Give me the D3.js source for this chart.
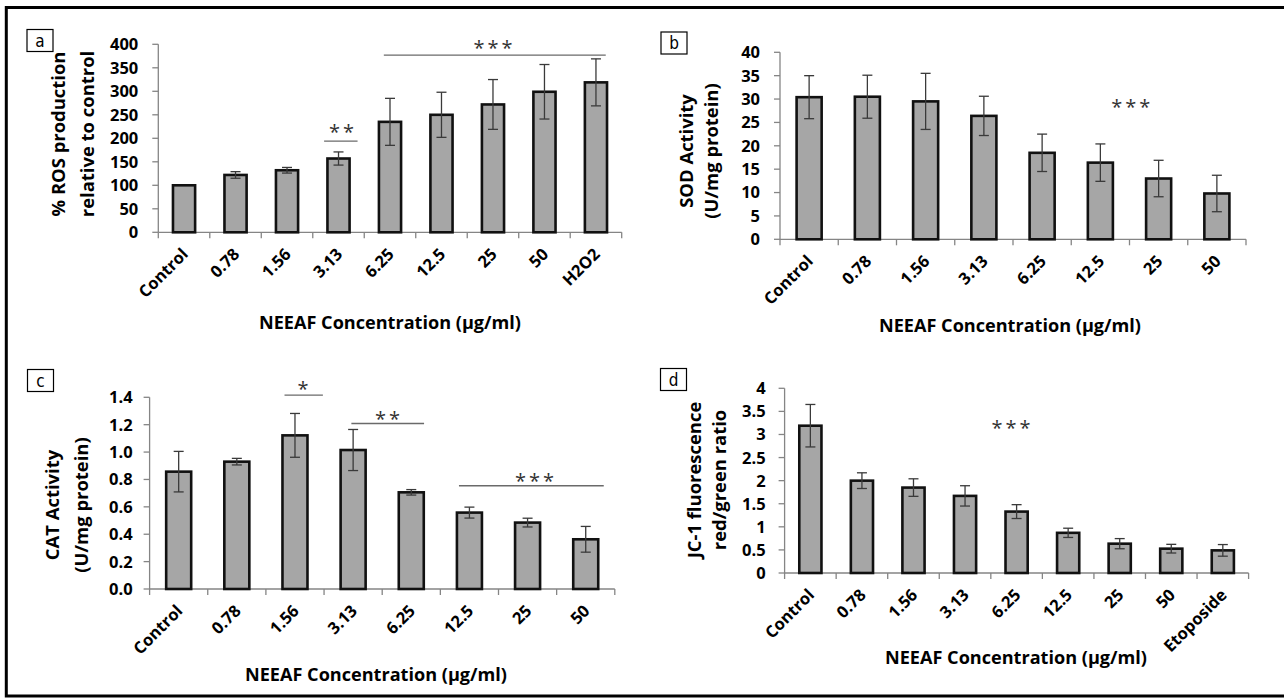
<!DOCTYPE html>
<html lang="en">
<head>
  <meta charset="UTF-8">
  <title>NEEAF oxidative stress panels</title>
  <script src="https://cdn.jsdelivr.net/npm/d3@7"></script>
<style>
    body { margin: 0; background: #fff; }
    text { font-family: "Open Sans", sans-serif; font-weight: bold; fill: #000; }
    .panel-tag { font-family: "Liberation Sans Narrow", "DejaVu Sans Condensed", sans-serif; font-weight: normal; font-size: 17px; }
    .stars { font-weight: normal; fill: #333; font-size: 20px; letter-spacing: 3px; }
    .axis-line { stroke: #858585; stroke-width: 1.3px; }
    .bar { fill: #a6a6a6; stroke: #111; stroke-width: 2.6px; }
    .err { stroke: #3a3a3a; stroke-width: 1.3px; }
    .sig-line { stroke: #6a6a6a; stroke-width: 1.4px; }
</style>
</head>
<body>
<svg width="1284" height="698"></svg>
<script>

// ---- data ----
var concLabels = ["Control", "0.78", "1.56", "3.13", "6.25", "12.5", "25", "50"];
var rosLabels = concLabels.concat(["H2O2"]);
var jcLabels = concLabels.concat(["Etoposide"]);

var rosMean = [100, 122, 132, 157, 235, 250, 272, 299, 319];
var rosErr  = [0, 7, 6, 14, 50, 48, 53, 58, 50];

var sodMean = [30.4, 30.5, 29.5, 26.4, 18.5, 16.4, 13.0, 9.8];
var sodErr  = [4.6, 4.6, 6.0, 4.2, 4.0, 4.0, 3.9, 3.9];

var catMean = [0.857, 0.930, 1.122, 1.015, 0.706, 0.558, 0.485, 0.363];
var catErr  = [0.148, 0.024, 0.160, 0.150, 0.020, 0.040, 0.032, 0.094];

var jcMean = [3.19, 2.00, 1.85, 1.67, 1.33, 0.87, 0.635, 0.527, 0.49];
var jcErr  = [0.46, 0.17, 0.19, 0.22, 0.15, 0.10, 0.11, 0.094, 0.126];

// significance marks: positions in category units, height in data units
var rosSig = [{ stars: "**", from: 2.72, to: 3.37, at: 194, tx: 3.06, ty: 222 },
              { stars: "***", from: 3.88, to: 8.19, at: 377, tx: 6.0, ty: 400 }];
var sodSig = [{ stars: "***", tx: 5.52, ty: 29.1 }];
var catSig = [{ stars: "*", from: 1.82, to: 2.48, at: 1.416, tx: 2.14, ty: 1.489 },
              { stars: "**", from: 2.97, to: 4.22, at: 1.209, tx: 3.59, ty: 1.272 },
              { stars: "***", from: 4.82, to: 7.31, at: 0.754, tx: 6.12, ty: 0.82 }];
var jcSig = [{ stars: "***", tx: 3.89, ty: 3.225 }];

var xTitle = "NEEAF Concentration (\u00b5g/ml)";

var svg = d3.select("svg");

// outer frame (cut at the right edge like the source image)
svg.append("rect")
    .attr("x", 6.3).attr("y", 7.5)
    .attr("width", 1300).attr("height", 688.5)
    .attr("fill", "none").attr("stroke", "#000").attr("stroke-width", 3);

function fitSize(str, base, target) {
  var t = svg.append("text").style("font-size", base + "px").text(str);
  var w = t.node().getComputedTextLength();
  t.remove();
  return base * target / w;
}

// one size for all axis titles, taken from the widest lines
var yTitleSize = fitSize("% ROS production", 17, 165);
var xTitleSize = fitSize(xTitle, 18, 262);

function drawPanel(p) {
  var g = svg.append("g");
  var n = p.cats.length;

  var x = d3.scaleBand()
      .domain(p.cats)
      .range([p.x0, p.x1])
      .paddingInner(0.57)
      .paddingOuter(0.285);
  var step = x.step();
  var y = d3.scaleLinear().domain(p.domain).range([p.yBase, p.yTop]);
  var catX = function(v) { return p.x0 + (v + 0.5) * step; };

  // y axis
  var yTicks = d3.range(p.domain[0], p.domain[1] + p.tickStep / 2, p.tickStep);
  g.append("line").attr("class", "axis-line")
      .attr("x1", p.x0).attr("x2", p.x0)
      .attr("y1", y(p.domain[0])).attr("y2", y(p.domain[1]));
  g.selectAll(".ytick").data(yTicks).enter().append("line")
      .attr("class", "axis-line")
      .attr("x1", p.x0 - 6).attr("x2", p.x0)
      .attr("y1", d => y(d)).attr("y2", d => y(d));
  g.selectAll(".ylab").data(yTicks).enter().append("text")
      .attr("x", p.x0 - p.labelGap)
      .attr("y", d => y(d))
      .attr("dy", "0.36em")
      .attr("text-anchor", "end")
      .style("font-size", "16.5px")
      .text(p.fmt);

  // x axis
  g.append("line").attr("class", "axis-line")
      .attr("x1", p.x0).attr("x2", p.x1)
      .attr("y1", p.yBase).attr("y2", p.yBase);
  g.selectAll(".xtick").data(d3.range(n + 1)).enter().append("line")
      .attr("class", "axis-line")
      .attr("x1", d => p.x0 + d * step).attr("x2", d => p.x0 + d * step)
      .attr("y1", p.yBase).attr("y2", p.yBase + 6);
  g.selectAll(".xlab").data(p.cats).enter().append("text")
      .attr("text-anchor", "end")
      .style("font-size", "16.5px")
      .attr("transform", d => "translate(" + (x(d) + x.bandwidth() / 2 + 5) + "," + (p.yBase + 23) + ") rotate(-45)")
      .text(d => d);

  // bars
  g.selectAll(".bar").data(p.mean).enter().append("rect")
      .attr("class", "bar")
      .attr("x", (d, i) => x(p.cats[i]))
      .attr("width", x.bandwidth())
      .attr("y", d => y(d))
      .attr("height", d => p.yBase - y(d));

  // error bars
  p.mean.forEach(function(m, i) {
    var e = p.err[i];
    if (!e) return;
    var cx = x(p.cats[i]) + x.bandwidth() / 2;
    var eg = g.append("g").attr("class", "err");
    eg.append("line").attr("x1", cx).attr("x2", cx).attr("y1", y(m + e)).attr("y2", y(m - e));
    eg.append("line").attr("x1", cx - 5).attr("x2", cx + 5).attr("y1", y(m + e)).attr("y2", y(m + e));
    eg.append("line").attr("x1", cx - 5).attr("x2", cx + 5).attr("y1", y(m - e)).attr("y2", y(m - e));
  });

  // significance
  p.sig.forEach(function(s) {
    if (s.from !== undefined) {
      g.append("line").attr("class", "sig-line")
          .attr("x1", catX(s.from)).attr("x2", catX(s.to))
          .attr("y1", y(s.at)).attr("y2", y(s.at));
    }
    g.append("text").attr("class", "stars")
        .attr("x", catX(s.tx) + 1.5).attr("y", y(s.ty) + 11)
        .attr("text-anchor", "middle")
        .text(s.stars);
  });

  // y title (two lines)
  p.yTitle.forEach(function(t, i) {
    g.append("text")
        .attr("text-anchor", "middle")
        .attr("dominant-baseline", "central")
        .attr("transform", "translate(" + p.yTitleX[i] + "," + p.yTitleY + ") rotate(-90)")
        .style("font-size", yTitleSize.toFixed(2) + "px")
        .text(t);
  });

  // x title
  g.append("text")
      .attr("x", p.xTitleX).attr("y", p.xTitleY)
      .attr("text-anchor", "middle")
      .attr("dominant-baseline", "central")
      .style("font-size", xTitleSize.toFixed(2) + "px")
      .text(xTitle);

  // panel tag
  g.append("rect")
      .attr("x", p.tag[0]).attr("y", p.tag[1])
      .attr("width", 26).attr("height", 22)
      .attr("fill", "#fff").attr("stroke", "#000").attr("stroke-width", 1.2);
  g.append("text").attr("class", "panel-tag")
      .attr("x", p.tag[0] + 13).attr("y", p.tag[1] + 11)
      .attr("text-anchor", "middle")
      .attr("dominant-baseline", "central")
      .text(p.tagText);
}

drawPanel({
  cats: rosLabels, mean: rosMean, err: rosErr, sig: rosSig,
  x0: 158.3, x1: 621.7, yTop: 44.3, yBase: 232.3,
  domain: [0, 400], tickStep: 50, fmt: d3.format("d"), labelGap: 20,
  yTitle: ["% ROS production", "relative to control"],
  yTitleX: [57, 86], yTitleY: 134,
  xTitleX: 390, xTitleY: 322,
  tag: [27, 29.5], tagText: "a"
});

drawPanel({
  cats: concLabels, mean: sodMean, err: sodErr, sig: sodSig,
  x0: 780, x1: 1246, yTop: 52.3, yBase: 239.3,
  domain: [0, 40], tickStep: 5, fmt: d3.format("d"), labelGap: 20,
  yTitle: ["SOD Activity", "(U/mg protein)"],
  yTitleX: [685, 710], yTitleY: 151,
  xTitleX: 1010, xTitleY: 325,
  tag: [661, 32], tagText: "b"
});

drawPanel({
  cats: concLabels, mean: catMean, err: catErr, sig: catSig,
  x0: 149.6, x1: 614.8, yTop: 397.3, yBase: 589,
  domain: [0, 1.4], tickStep: 0.2, fmt: d3.format(".1f"), labelGap: 17,
  yTitle: ["CAT Activity", "(U/mg protein)"],
  yTitleX: [51, 80], yTitleY: 505,
  xTitleX: 376, xTitleY: 674,
  tag: [27.5, 369.5], tagText: "c"
});

drawPanel({
  cats: jcLabels, mean: jcMean, err: jcErr, sig: jcSig,
  x0: 784.6, x1: 1248.6, yTop: 388.3, yBase: 573,
  domain: [0, 4], tickStep: 0.5, fmt: d => d3.format("")(+d.toFixed(1)), labelGap: 19,
  yTitle: ["JC-1 fluorescence", "red/green ratio"],
  yTitleX: [693, 718], yTitleY: 480,
  xTitleX: 1016, xTitleY: 657,
  tag: [660.5, 368.5], tagText: "d"
});

</script>
</body>
</html>
